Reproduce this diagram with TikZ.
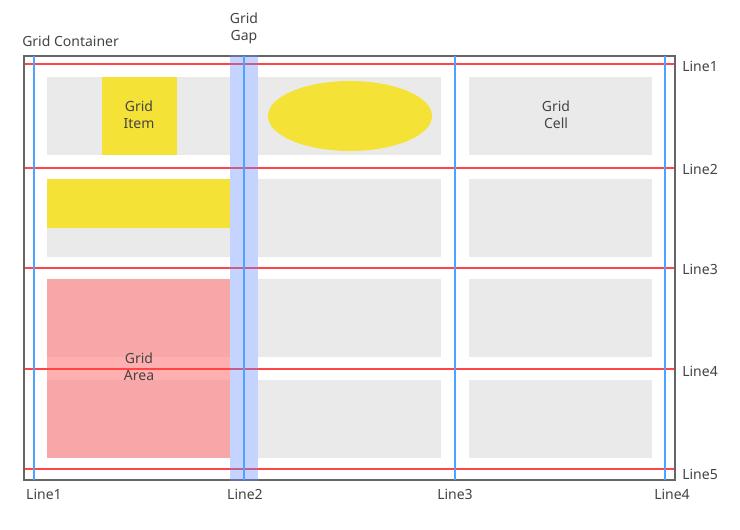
\documentclass[tikz,border=0pt]{standalone}
\usepackage{fontspec}
\setmainfont{Noto Sans}
\usetikzlibrary{shapes.geometric}
\definecolor{cellgray}{HTML}{EAEAEA}
\definecolor{itemyellow}{HTML}{F5E236}
\definecolor{areapink}{HTML}{FF7F7F}
\definecolor{gapblue}{HTML}{6489FF}
\definecolor{linered}{HTML}{FF4545}
\definecolor{lineblue}{HTML}{4DA3FF}
\definecolor{frame}{HTML}{666666}
\definecolor{txt}{HTML}{444444}
\begin{document}
\begin{tikzpicture}[x=0.75pt,y=-0.75pt,
  cellbox/.style={fill=cellgray,draw=none},
  lbl/.style={text=txt,font=\fontsize{10.5}{12.75}\selectfont,inner sep=0pt,align=center},
  rowline/.style={draw=linered,line width=1.5pt},
  colline/.style={draw=lineblue,line width=1.5pt}]
\useasboundingbox[fill=white] (0,0) rectangle (740,530);
% cells
\foreach \x in {47,258,469}{
  \foreach \y in {77,179,279,380}{
    \fill[cellbox] (\x,\y) rectangle ++(183,78);
  }
}
% items
\fill[itemyellow] (102,77) rectangle (177,155);
\node[fill=itemyellow,ellipse,minimum width=123pt,minimum height=52.5pt,inner sep=0pt] (ell) at (350,116) {};
\fill[itemyellow] (47,179) rectangle (230,228);
\fill[areapink,opacity=0.62] (47,279) rectangle (230,458);
% row lines
\foreach \y/\n in {64/1,168/2,268/3,369/4,469/5}{
  \coordinate (rl\n) at (24,\y);
  \coordinate (rr\n) at (675,\y);
  \draw[rowline] (rl\n) -- (rr\n);
}
% container
\draw[frame,line width=1.5pt] (24,56) rectangle (675,480);
% gap band
\fill[gapblue,opacity=0.37] (230,55) rectangle (258,481);
% column lines
\foreach \x/\n in {34/1,244/2,455/3,665/4}{
  \coordinate (ct\n) at (\x,56);
  \coordinate (cb\n) at (\x,480);
  \draw[colline] (ct\n) -- (cb\n);
}
% labels
\node[lbl,anchor=west] (gc) at (22,41) {Grid Container};
\node[lbl] (gg) at (244,28) {Grid\\Gap};
\node[lbl] (gi) at (139,115) {Grid\\Item};
\node[lbl] (gcell) at (556,115) {Grid\\Cell};
\node[lbl] (ga) at (139,367) {Grid\\Area};
\foreach \y/\n in {66/1,169/2,269/3,371/4,474/5}{
  \node[lbl,anchor=west] (rlab\n) at (682,\y) {Line\n};
}
\node[lbl] (b1) at (44,494) {Line1};
\node[lbl] (b2) at (245,494) {Line2};
\node[lbl] (b3) at (455,494) {Line3};
\node[lbl] (b4) at (672,494) {Line4};
\end{tikzpicture}
\end{document}
